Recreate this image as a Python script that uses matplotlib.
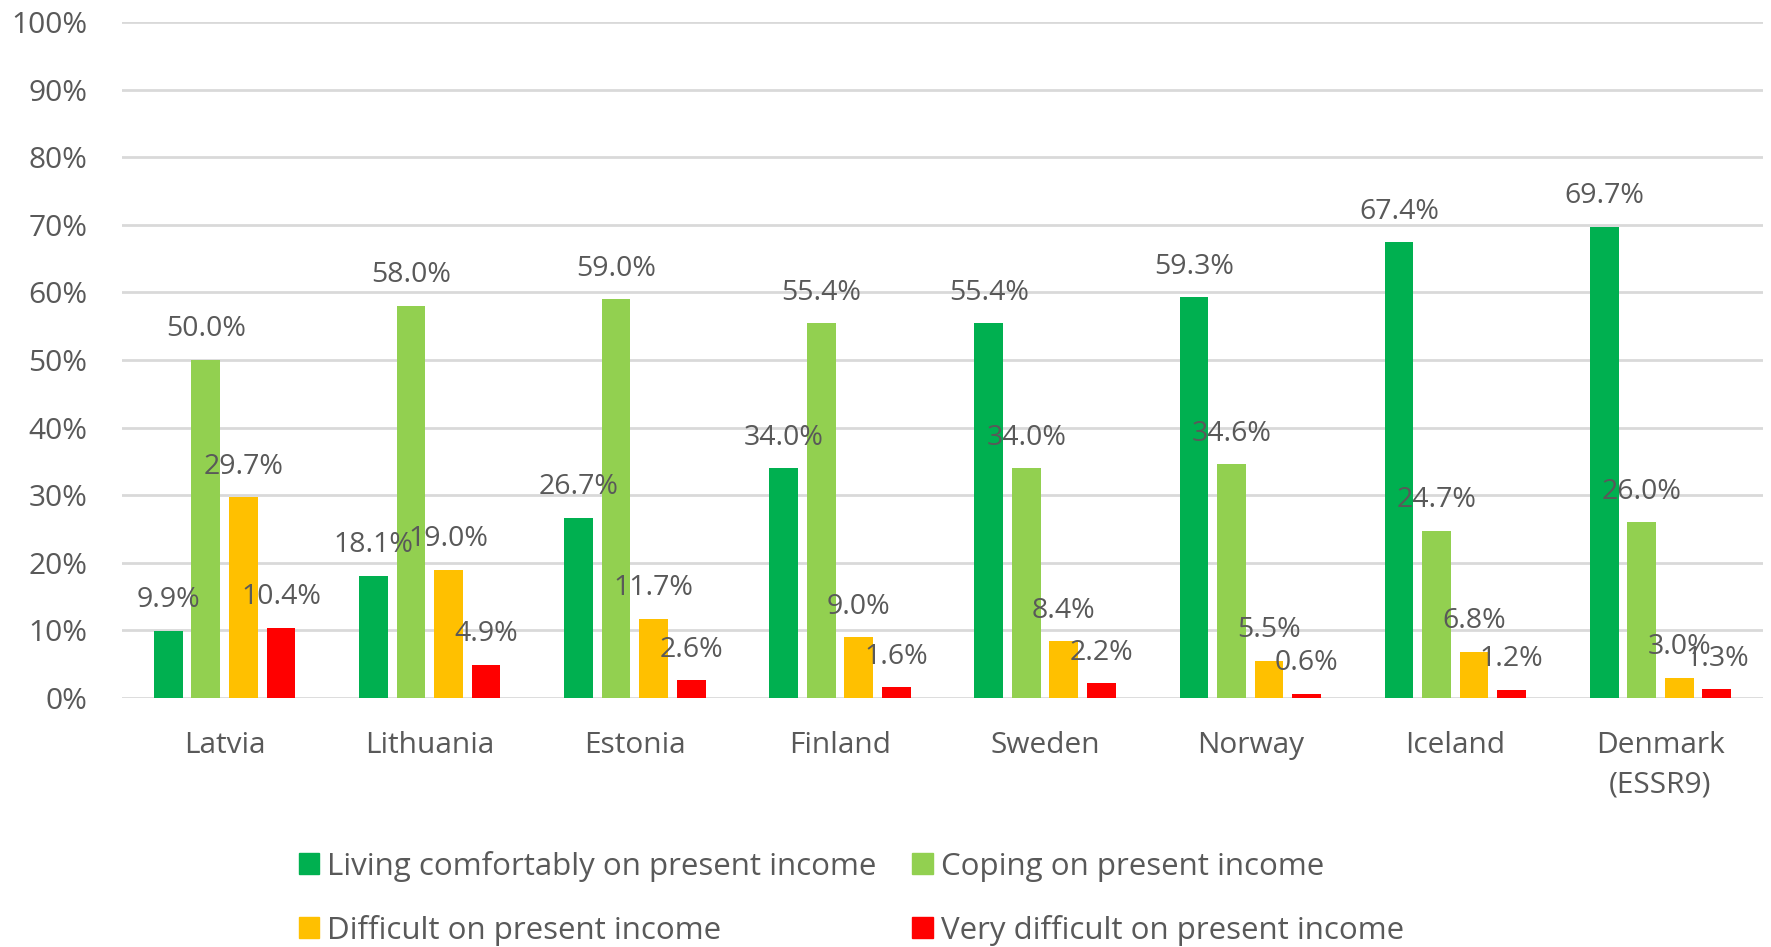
import matplotlib
matplotlib.use("Agg")
import matplotlib.pyplot as plt
from matplotlib.patches import Patch
import numpy as np

categories = ["Latvia", "Lithuania", "Estonia", "Finland", "Sweden", "Norway", "Iceland", "Denmark\n(ESSR9)"]
series_names = ["Living comfortably on present income", "Coping on present income",
                "Difficult on present income", "Very difficult on present income"]
living = [9.9, 18.1, 26.7, 34.0, 55.4, 59.3, 67.4, 69.7]
coping = [50.0, 58.0, 59.0, 55.4, 34.0, 34.6, 24.7, 26.0]
difficult = [29.7, 19.0, 11.7, 9.0, 8.4, 5.5, 6.8, 3.0]
very_difficult = [10.4, 4.9, 2.6, 1.6, 2.2, 0.6, 1.2, 1.3]
colors = ["#00B050", "#92D050", "#FFC000", "#FF0000"]
yticks = [0, 10, 20, 30, 40, 50, 60, 70, 80, 90, 100]

plt.rcParams['font.family'] = ['Open Sans', 'DejaVu Sans']
text_color = "#595959"

fig = plt.figure(figsize=(17.71, 9.47), dpi=100)
ax = fig.add_axes([0.0689, 0.2629, 0.9266, 0.7139])

x = np.arange(len(categories))
step = 0.183
width = 0.14
all_series = [living, coping, difficult, very_difficult]
for i, (vals, col, name) in enumerate(zip(all_series, colors, series_names)):
    pos = x + (i - 1.5) * step
    ax.bar(pos, vals, width=width, color=col, zorder=3, label=name)
    for px, v in zip(pos, vals):
        ax.annotate(f"{v:.1f}%", (px, v), xytext=(0, 17), textcoords="offset points",
                    ha="center", va="baseline", fontsize=20.5, color=text_color, zorder=4)

ax.set_xlim(-0.5, len(categories) - 0.5)
ax.set_ylim(0, 100)
ax.set_yticks(yticks)
ax.set_yticklabels([f"{t}%" for t in yticks])
ax.set_xticks(x)
ax.set_xticklabels(categories)
ax.yaxis.grid(True, color="#D9D9D9", linewidth=2.0, zorder=0)
ax.set_axisbelow(True)
for s in ax.spines.values():
    s.set_visible(False)
ax.tick_params(axis='y', length=0, pad=25, labelsize=21.5, labelcolor=text_color)
ax.tick_params(axis='x', length=0, pad=24, labelsize=21.5, labelcolor=text_color)
for lab in ax.get_xticklabels():
    lab.set_linespacing(1.45)

handles = [Patch(color=c) for c in colors]
order = [0, 2, 1, 3]
fig.legend([handles[k] for k in order], [series_names[k] for k in order],
           loc="upper left", bbox_to_anchor=(0.1688, 0.1019), ncol=2, frameon=False,
           fontsize=22.5, handlelength=0.65, handleheight=0.65, handletextpad=0.25,
           columnspacing=1.15, labelspacing=1.06, borderpad=0, borderaxespad=0,
           labelcolor=text_color)

fig.savefig("out.png", dpi=100)
